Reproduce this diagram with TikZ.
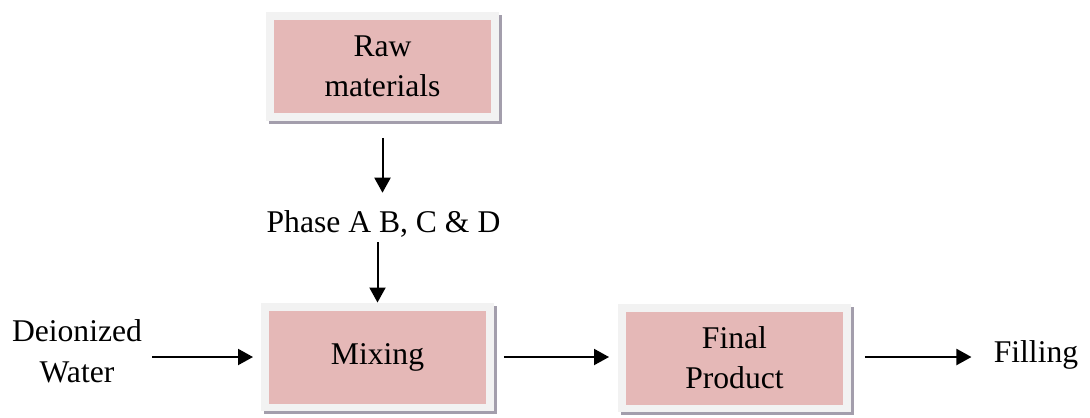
\documentclass[tikz,border=0pt]{standalone}
\usepackage{fontspec}
\setmainfont{Liberation Serif}
\usepackage{tikz}
\usetikzlibrary{arrows.meta,positioning}

\definecolor{boxpink}{RGB}{229,184,183}
\definecolor{boxframe}{RGB}{242,242,242}
\definecolor{boxshade}{RGB}{163,158,172}

\begin{document}
\begin{tikzpicture}[
    x=0.02cm, y=-0.02cm,
    every node/.style={font=\fontsize{18pt}{22.8pt}\selectfont},
    block/.style={rectangle, fill=boxpink, draw=boxframe, line width=0.16cm,
        minimum width=4.5cm, minimum height=2.02cm, inner sep=0pt, align=center,
        preaction={fill=boxshade, draw=boxshade, transform canvas={shift={(3,3)}}}},
    label/.style={inner sep=0pt, align=center, anchor=base},
    arrow/.style={-{Triangle[length=0.3cm, width=0.32cm]}, line width=0.04cm}
]
    \useasboundingbox (0,0) rectangle (1090,417);

    % Process boxes
    \node[block] (raw) at (382.5,66.5) {Raw\\materials};
    \node[block] (mix) at (377.5,357) {Mixing};
    \node[block] (final) at (734.5,358) {Final\\Product};

    % Free labels (base = last line)
    \node[label] (phase) at (383.5,232) {Phase A B, C \& D};
    \node[label] (water) at (77,382) {Deionized\\Water};
    \node[label] (fill) at (1036,362) {Filling};

    % Flow
    \draw[arrow, shorten <=0.34cm, shorten >=0.34cm] (raw.south) -- (raw.south |- phase.north);
    \draw[arrow, shorten <=0.1cm] (mix.north |- phase.south) -- (mix.north);
    \draw[arrow, shorten <=0.2cm, shorten >=0.16cm] (water.east |- mix.west) -- (mix.west);
    \draw[arrow, shorten <=0.2cm, shorten >=0.18cm] (mix.east) -- (final.west |- mix.east);
    \draw[arrow, shorten <=0.28cm, shorten >=0.44cm] (final.east |- mix.east) -- (fill.west |- mix.east);
\end{tikzpicture}
\end{document}
